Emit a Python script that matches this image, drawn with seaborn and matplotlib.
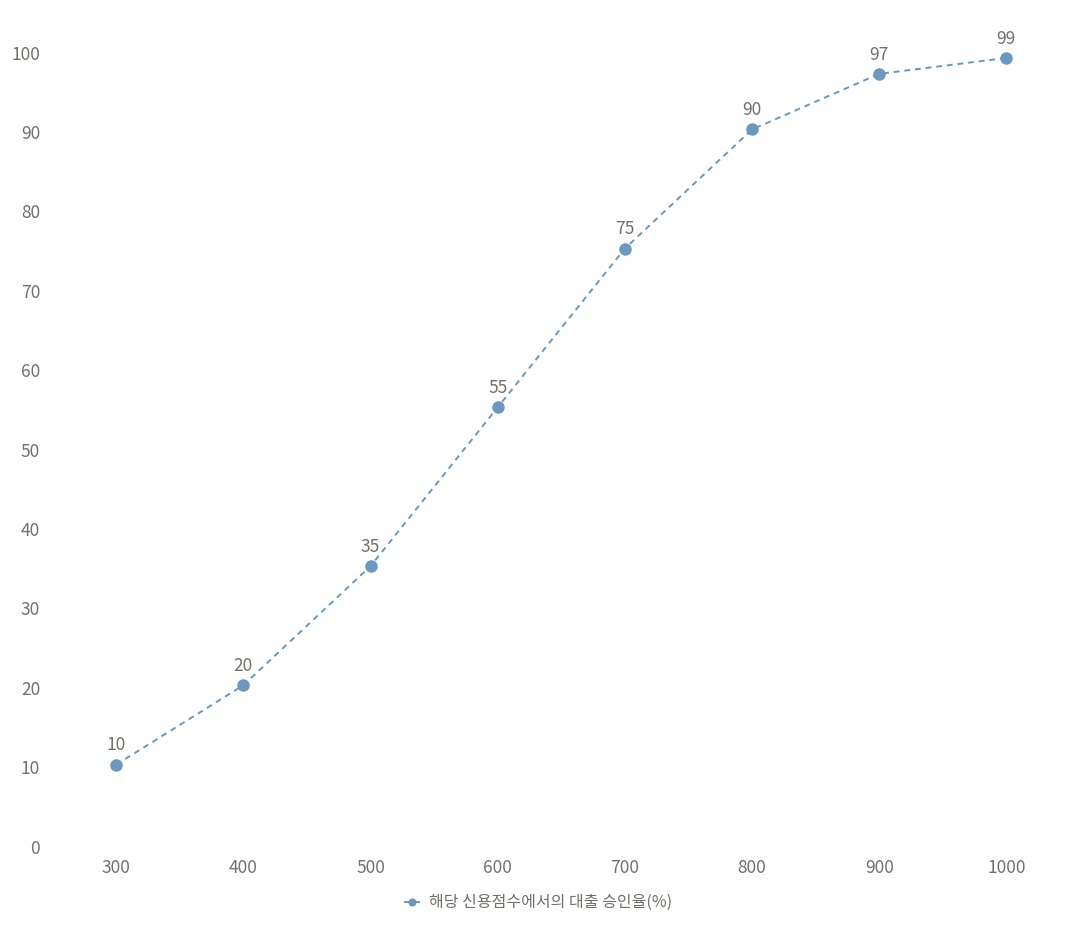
import matplotlib
matplotlib.use("Agg")
import matplotlib.pyplot as plt
import matplotlib.transforms as mtransforms
import seaborn as sns
import pandas as pd

scores = [300, 400, 500, 600, 700, 800, 900, 1000]
approval = [10, 20, 35, 55, 75, 90, 97, 99]
series_name = "해당 신용점수에서의 대출 승인율(%)"
y_ticks = [0, 10, 20, 30, 40, 50, 60, 70, 80, 90, 100]

sns.set_theme(style="white")
plt.rcParams['font.family'] = ['Noto Sans CJK KR', 'DejaVu Sans']

color = "#6b98be"
text_color = "#756f69"

df = pd.DataFrame({"score": scores, "rate": approval, "series": series_name})

fig = plt.figure(figsize=(10.8, 9.25), dpi=100)
ax = fig.add_axes([0.0487, 0.0875, 0.942, 0.8584])

sns.lineplot(data=df, x="score", y="rate", hue="series", palette=[color], ax=ax,
             marker="o", markersize=9, markeredgewidth=0, linestyle="--",
             linewidth=1.4, dashes=False)
for line in ax.lines:
    line.set_linestyle((0, (3, 2.5)))

for x, y in zip(scores, approval):
    ax.text(x, y + 1.3, f"{y}", ha="center", va="bottom", fontsize=12.5, color=text_color, clip_on=False)

ax.set_xlim(250, 1050)
ax.set_ylim(0, 100)
ax.set_xticks(scores)
ax.set_xticklabels([str(s) for s in scores])
ax.set_yticks(y_ticks)
ax.tick_params(axis="both", length=0, labelsize=12.5, labelcolor=text_color)
ax.tick_params(axis="y", pad=9)
ax.tick_params(axis="x", pad=11)
shift = mtransforms.ScaledTranslation(0, -2.5 / 100, fig.dpi_scale_trans)
for lbl in ax.get_yticklabels():
    lbl.set_transform(lbl.get_transform() + shift)
ax.set_xlabel("")
ax.set_ylabel("")
for s in ax.spines.values():
    s.set_visible(False)
ax.grid(False)

leg = ax.legend(loc="upper center", bbox_to_anchor=(0.477, -0.045), frameon=False,
                fontsize=11.5, handlelength=1.0, handletextpad=0.6, markerscale=0.65)
for t in leg.get_texts():
    t.set_color(text_color)

fig.savefig("out.png", dpi=100, facecolor="white")
